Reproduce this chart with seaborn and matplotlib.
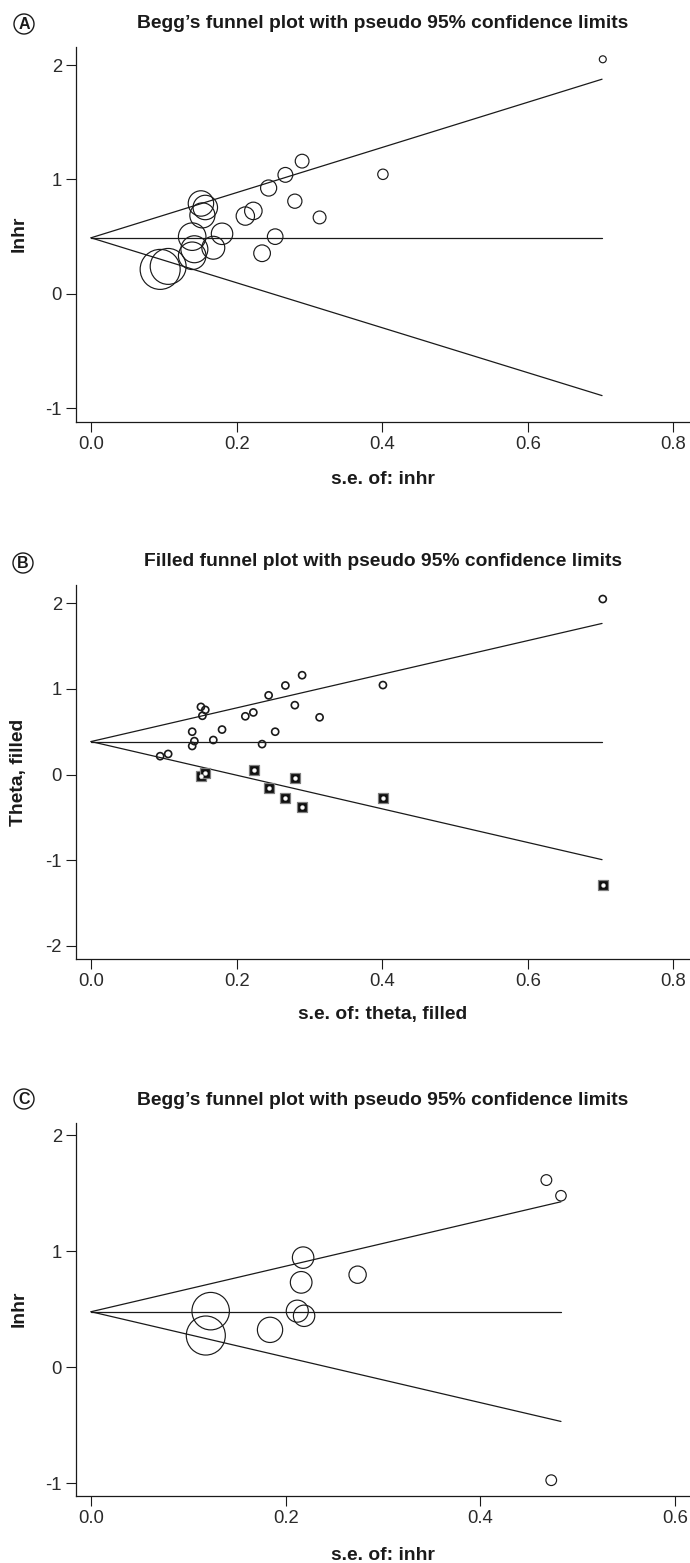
import numpy as np
import pandas as pd
import matplotlib
matplotlib.use("Agg")
import matplotlib.pyplot as plt
from matplotlib.patches import Ellipse
import seaborn as sns

# ---------------- data ----------------
# observed studies (panel A and open circles of panel B)
se_obs = [0.703, 0.401, 0.290, 0.267, 0.244, 0.280, 0.314, 0.253, 0.235, 0.212, 0.223,
          0.151, 0.157, 0.153, 0.139, 0.180, 0.168, 0.142, 0.139, 0.095, 0.106]
lnhr_obs = [2.05, 1.045, 1.16, 1.04, 0.925, 0.81, 0.668, 0.50, 0.355, 0.68, 0.725,
            0.79, 0.755, 0.686, 0.50, 0.525, 0.403, 0.39, 0.333, 0.214, 0.24]
# imputed (filled) studies of panel B
se_fill = [0.151, 0.157, 0.224, 0.245, 0.267, 0.280, 0.290, 0.401, 0.703]
theta_fill = [-0.016, 0.016, 0.047, -0.160, -0.272, -0.043, -0.381, -0.272, -1.288]
# panel C studies
se_c = [0.468, 0.483, 0.473, 0.218, 0.216, 0.274, 0.212, 0.219, 0.184, 0.123, 0.118]
lnhr_c = [1.612, 1.477, -0.973, 0.944, 0.731, 0.797, 0.483, 0.443, 0.322, 0.483, 0.273]

# funnel lines: se at vertex / end, pooled estimate, pseudo 95% limits at the end
funnel_se_A = [0.0, 0.702]
pooled_A, upper_A, lower_A = 0.49, 1.876, -0.889
funnel_se_B = [0.0, 0.702]
pooled_B, upper_B, lower_B = 0.385, 1.765, -0.995
funnel_se_C = [0.0, 0.483]
pooled_C, upper_C, lower_C = 0.478, 1.425, -0.467

titles = ["Begg\u2019s funnel plot with pseudo 95% confidence limits",
          "Filled funnel plot with pseudo 95% confidence limits",
          "Begg\u2019s funnel plot with pseudo 95% confidence limits"]
ylabels = ["lnhr", "Theta, filled", "lnhr"]
xlabels = ["s.e. of: inhr", "s.e. of: theta, filled", "s.e. of: inhr"]
letters = ["A", "B", "C"]
xticks_AB = [0.0, 0.2, 0.4, 0.6, 0.8]
xticks_C = [0.0, 0.2, 0.4, 0.6]
yticks_A = [-1, 0, 1, 2]
yticks_B = [-2, -1, 0, 1, 2]
yticks_C = [-1, 0, 1, 2]

# ---------------- style ----------------
sns.set_style("ticks")
plt.rcParams["font.family"] = ["Liberation Sans", "DejaVu Sans"]
plt.rcParams["axes.unicode_minus"] = False

W, H = 690, 1563
fig = plt.figure(figsize=(W / 100, H / 100), dpi=100)

def px_ax(left, top, right, bottom):
    return fig.add_axes([left / W, 1 - bottom / H, (right - left) / W, (bottom - top) / H])

axA = px_ax(76, 46.7, 690, 421.7)
axB = px_ax(76, 585.0, 690, 959.3)
axC = px_ax(76, 1122.7, 690, 1496.0)

LINE = "#1a1a1a"
TICKC = "#2a2a2a"

def funnel(ax, se_end, pooled, up, lo):
    xs = se_end
    sns.lineplot(x=xs, y=[pooled, pooled], ax=ax, color=LINE, lw=0.9, sort=False, estimator=None)
    sns.lineplot(x=xs, y=[pooled, up], ax=ax, color=LINE, lw=0.9, sort=False, estimator=None)
    sns.lineplot(x=xs, y=[pooled, lo], ax=ax, color=LINE, lw=0.9, sort=False, estimator=None)

def style_axes(ax, xlim, ylim, xt, yt):
    ax.set_xlim(*xlim)
    ax.set_ylim(*ylim)
    ax.set_xticks(xt)
    ax.set_xticklabels([f"{v:.1f}" for v in xt])
    ax.set_yticks(yt)
    ax.set_yticklabels([f"{v:d}" for v in yt])
    sns.despine(ax=ax)
    for s in ("left", "bottom"):
        ax.spines[s].set_color(LINE)
        ax.spines[s].set_linewidth(0.9)
    ax.tick_params(axis="both", direction="out", length=7.2, width=0.8,
                   color=LINE, labelcolor=TICKC, labelsize=13.3)
    ax.tick_params(axis="y", pad=3)
    ax.tick_params(axis="x", pad=3)
    ax.set_xlabel("")
    ax.set_ylabel("")
    ax.set_facecolor("white")

# ---------------- panel A ----------------
dfA = pd.DataFrame({"se": se_obs, "y": lnhr_obs})
dfA["w"] = 1 / dfA["se"] ** 2
funnel(axA, funnel_se_A, pooled_A, upper_A, lower_A)
sns.scatterplot(data=dfA, x="se", y="y", size="w", sizes=(25, 830), legend=False,
                ax=axA, marker="o", linewidth=0.85, zorder=3)
axA.collections[-1].set_facecolor("none")
axA.collections[-1].set_edgecolor(LINE)
style_axes(axA, (-0.0206, 0.8228), (-1.117, 2.16), xticks_AB, yticks_A)

# ---------------- panel B ----------------
dfB = pd.DataFrame({"se": se_obs, "y": lnhr_obs})
dfF = pd.DataFrame({"se": se_fill, "y": theta_fill})
funnel(axB, funnel_se_B, pooled_B, upper_B, lower_B)
sns.scatterplot(data=dfB, x="se", y="y", ax=axB, marker="o", s=26, linewidth=1.2,
                legend=False, zorder=3)
axB.collections[-1].set_facecolor("none")
axB.collections[-1].set_edgecolor(LINE)
sns.scatterplot(data=dfF, x="se", y="y", ax=axB, marker="s", s=56, color="#111111",
                edgecolor="#808080", linewidth=0.9, legend=False, zorder=4)
sns.scatterplot(data=dfF, x="se", y="y", ax=axB, marker="o", s=8, color="white",
                edgecolor="#e0e0e0", linewidth=0.3, legend=False, zorder=5)
style_axes(axB, (-0.0206, 0.8228), (-2.159, 2.214), xticks_AB, yticks_B)

# ---------------- panel C ----------------
dfC = pd.DataFrame({"se": se_c, "y": lnhr_c})
dfC["w"] = 1 / dfC["se"] ** 2
funnel(axC, funnel_se_C, pooled_C, upper_C, lower_C)
sns.scatterplot(data=dfC, x="se", y="y", size="w", sizes=(57, 790), legend=False,
                ax=axC, marker="o", linewidth=0.85, zorder=3)
axC.collections[-1].set_facecolor("none")
axC.collections[-1].set_edgecolor(LINE)
style_axes(axC, (-0.0154, 0.6156), (-1.109, 2.106), xticks_C, yticks_C)

# ---------------- texts ----------------
title_base = [28, 566, 1105]
ylab_center = [234, 772, 1309]
xlab_center = [479, 1014, 1555]
letter_pos = [(24, 24), (23, 563), (24, 1099)]

for i in range(3):
    fig.text(383 / W, 1 - title_base[i] / H, titles[i], ha="center", va="baseline",
             fontsize=13.9, fontweight="bold", color="#1a1a1a")
    fig.text(19 / W, 1 - ylab_center[i] / H, ylabels[i], ha="center", va="center",
             rotation=90, fontsize=13.9, fontweight="bold", color="#1a1a1a")
    fig.text(383 / W, 1 - xlab_center[i] / H, xlabels[i], ha="center", va="center",
             fontsize=13.9, fontweight="bold", color="#1a1a1a")
    lx, ly = letter_pos[i]
    fig.patches.append(Ellipse((lx / W, 1 - ly / H), 20 / W, 20 / H, transform=fig.transFigure,
                               fill=False, edgecolor="#1a1a1a", linewidth=1.0))
    fig.text(lx / W, 1 - (ly + 0.5) / H, letters[i], ha="center", va="center",
             fontsize=11.5, fontweight="bold", color="#1a1a1a")

fig.savefig("out.png", dpi=100, facecolor="white")
